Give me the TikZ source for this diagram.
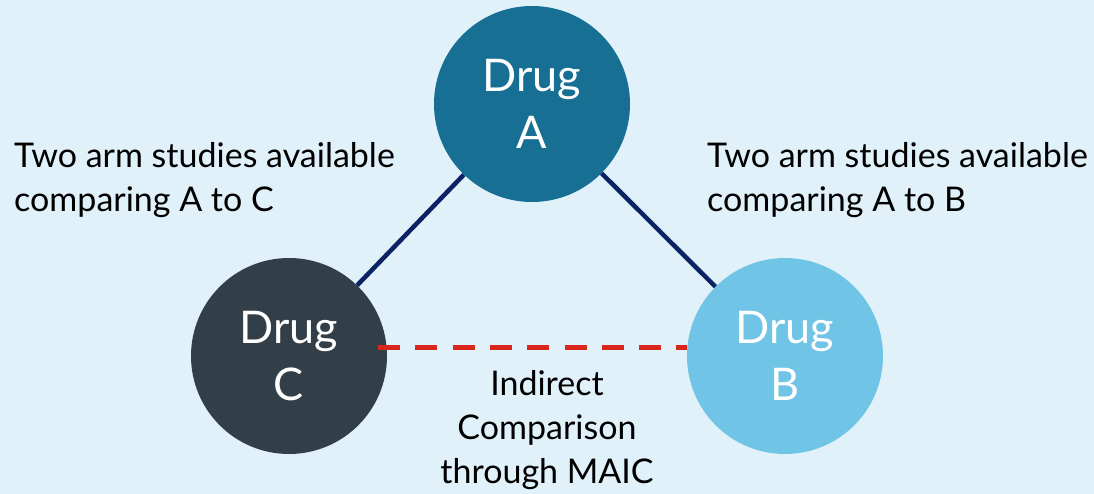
\documentclass[tikz,border=0pt]{standalone}
\usepackage{fontspec}
\setmainfont{Lato}
\definecolor{bg}{HTML}{E1F1F9}
\definecolor{colA}{HTML}{176F93}
\definecolor{colB}{HTML}{70C4E6}
\definecolor{colC}{HTML}{323F48}
\definecolor{navy}{HTML}{0B2265}
\definecolor{dred}{HTML}{D9261C}
\begin{document}
\begin{tikzpicture}[x=1pt,y=-1pt,
  drug/.style={circle, minimum size=196pt, inner sep=0pt, text=white,
    font=\fontsize{45}{57}\selectfont, align=center},
  lbl/.style={font=\fontsize{34}{44}\selectfont, text=black, inner sep=0pt},
  link/.style={draw=navy, line width=4.5pt},
  indirect/.style={draw=dred, line width=5pt, dash pattern=on 22pt off 15.3pt}]
\fill[bg] (0,0) rectangle (1094,494);
\useasboundingbox (0,0) rectangle (1094,494);
\node[drug, fill=colA] (A) at (532,104) {Drug\\A};
\node[drug, fill=colC] (C) at (289,356) {Drug\\C};
\node[drug, fill=colB] (B) at (785,356) {Drug\\B};
\draw[link] (A) -- (C);
\draw[link] (A) -- (B);
\coordinate (cl) at (378,347);
\coordinate (cr) at (687,347);
\draw[indirect] (cl) -- (cr);
\node[lbl, anchor=base west, align=left] (tl) at (14,212) {Two arm studies available\\comparing A to C};
\node[lbl, anchor=base west, align=left] (tr) at (707,212) {Two arm studies available\\comparing A to B};
\node[lbl, anchor=base, align=center] (tb) at (547,483) {Indirect\\Comparison\\through MAIC};
\end{tikzpicture}
\end{document}
